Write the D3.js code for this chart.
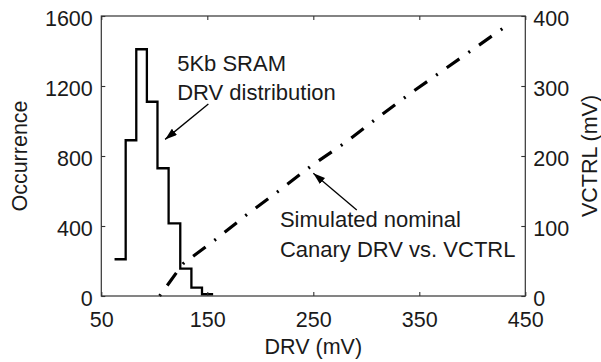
<!DOCTYPE html>
<html>
<head>
<meta charset="utf-8">
<script src="https://cdn.jsdelivr.net/npm/d3@7"></script>
<style>
  html, body { margin: 0; padding: 0; background: #fff; }
  svg { display: block; }
  text { font-family: "Liberation Sans", Arial, Helvetica, sans-serif; fill: #1a1a1a; }
</style>
</head>
<body>
<svg id="chart" width="601" height="362"></svg>
<script>
// ---- data ----
const binEdges = [62.5, 73, 83, 93, 103, 113.5, 124.5, 135, 145, 155.5];
const counts   = [210, 890, 1410, 1110, 730, 415, 157, 48, 10];

const canaryDRV   = [105, 127, 158, 188, 219, 249, 281, 311, 342, 373, 405, 436];
const canaryVCTRL = [0, 46, 81, 117, 152, 187, 220, 255, 290, 323, 357, 390];

const xTicks      = [50, 150, 250, 350, 450];
const yLeftTicks  = [0, 400, 800, 1200, 1600];
const yRightTicks = [0, 100, 200, 300, 400];

const labels = {
  x: "DRV (mV)",
  yLeft: "Occurrence",
  yRight: "VCTRL (mV)",
  hist: ["5Kb SRAM", "DRV distribution"],
  canary: ["Simulated nominal", "Canary DRV vs. VCTRL"]
};

// ---- layout ----
const W = 601, H = 362;
const m = { left: 101.3, right: 525.3, top: 16, bottom: 296 };
const svg = d3.select("#chart");

const x  = d3.scaleLinear().domain([50, 450]).range([m.left, m.right]);
const yL = d3.scaleLinear().domain([0, 1600]).range([m.bottom, m.top]);
const yR = d3.scaleLinear().domain([0, 400]).range([m.bottom, m.top]);

const FS = 21.5;
const frameColor = "#333";

// defs: arrow marker
svg.append("defs").append("marker")
  .attr("id", "arrow")
  .attr("viewBox", "0 0 12 8")
  .attr("refX", 12).attr("refY", 4)
  .attr("markerWidth", 12).attr("markerHeight", 8)
  .attr("markerUnits", "userSpaceOnUse")
  .attr("orient", "auto")
  .append("path").attr("d", "M0,0 L12,4 L0,8 Z").attr("fill", "#000");

// ---- data marks ----
const stairPts = binEdges.map((e, i) => [e, i < counts.length ? counts[i] : counts[counts.length - 1]]);
svg.append("path")
  .datum(stairPts)
  .attr("fill", "none")
  .attr("stroke", "#000")
  .attr("stroke-width", 2.3)
  .attr("stroke-linejoin", "miter")
  .attr("d", d3.line().x(d => x(d[0])).y(d => yL(d[1])).curve(d3.curveStepAfter));

svg.append("path")
  .datum(canaryDRV.map((d, i) => [d, canaryVCTRL[i]]))
  .attr("fill", "none")
  .attr("stroke", "#000")
  .attr("stroke-width", 3.2)
  .attr("stroke-dasharray", "2,11,15.5,11")
  .attr("d", d3.line().x(d => x(d[0])).y(d => yR(d[1])));

// ---- frame & axes ----
svg.append("rect")
  .attr("x", m.left).attr("y", m.top)
  .attr("width", m.right - m.left).attr("height", m.bottom - m.top)
  .attr("fill", "none").attr("stroke", frameColor).attr("stroke-width", 1.2);

const tickLen = 4;
function styleAxis(g) {
  g.select(".domain").remove();
  g.selectAll(".tick line").attr("stroke", frameColor).attr("stroke-width", 1.1);
  g.selectAll(".tick text").attr("font-size", FS).attr("fill", "#1a1a1a")
    .attr("font-family", '"Liberation Sans", Arial, sans-serif');
}

// bottom
svg.append("g").attr("transform", `translate(0,${m.bottom})`)
  .call(d3.axisBottom(x).tickValues(xTicks).tickSizeInner(-tickLen).tickSizeOuter(0).tickPadding(0).tickFormat(d3.format("d")))
  .call(styleAxis)
  .call(g => g.selectAll(".tick text").attr("y", 31).attr("dy", null));
// top
svg.append("g").attr("transform", `translate(0,${m.top})`)
  .call(d3.axisTop(x).tickValues(xTicks).tickSizeInner(-tickLen).tickSizeOuter(0).tickFormat(""))
  .call(styleAxis);
// left
svg.append("g").attr("transform", `translate(${m.left},0)`)
  .call(d3.axisLeft(yL).tickValues(yLeftTicks).tickSizeInner(-tickLen).tickSizeOuter(0).tickFormat(d3.format("d")))
  .call(styleAxis)
  .call(g => g.selectAll(".tick text").attr("x", -8.5).attr("dy", null).attr("y", 9.5));
// right
svg.append("g").attr("transform", `translate(${m.right},0)`)
  .call(d3.axisRight(yR).tickValues(yRightTicks).tickSizeInner(-tickLen).tickSizeOuter(0).tickFormat(d3.format("d")))
  .call(styleAxis)
  .call(g => g.selectAll(".tick text").attr("x", 8).attr("dy", null).attr("y", 9.5));

// axis titles
svg.append("text").attr("x", (m.left + m.right) / 2).attr("y", 354)
  .attr("text-anchor", "middle").attr("font-size", FS).text(labels.x);
svg.append("text").attr("transform", `translate(27,${(m.top + m.bottom) / 2}) rotate(-90)`)
  .attr("text-anchor", "middle").attr("font-size", FS).text(labels.yLeft);
svg.append("text").attr("transform", `translate(597,${(m.top + m.bottom) / 2}) rotate(-90)`)
  .attr("text-anchor", "middle").attr("font-size", FS).text(labels.yRight);

// ---- annotations ----
const FA = 22;
svg.append("text").attr("x", x(121.6)).attr("y", 71).attr("font-size", FA).text(labels.hist[0]);
svg.append("text").attr("x", x(121.6)).attr("y", 100).attr("font-size", FA).text(labels.hist[1]);
svg.append("line")
  .attr("x1", x(151)).attr("y1", yL(1097)).attr("x2", x(110.2)).attr("y2", yL(895))
  .attr("stroke", "#000").attr("stroke-width", 1.3).attr("marker-end", "url(#arrow)");

svg.append("text").attr("x", x(218.5)).attr("y", 226.5).attr("font-size", FA).text(labels.canary[0]);
svg.append("text").attr("x", x(218.5)).attr("y", 257).attr("font-size", FA).text(labels.canary[1]);
svg.append("line")
  .attr("x1", x(291)).attr("y1", yR(123)).attr("x2", x(250)).attr("y2", yR(175.3))
  .attr("stroke", "#000").attr("stroke-width", 1.3).attr("marker-end", "url(#arrow)");
</script>
</body>
</html>
